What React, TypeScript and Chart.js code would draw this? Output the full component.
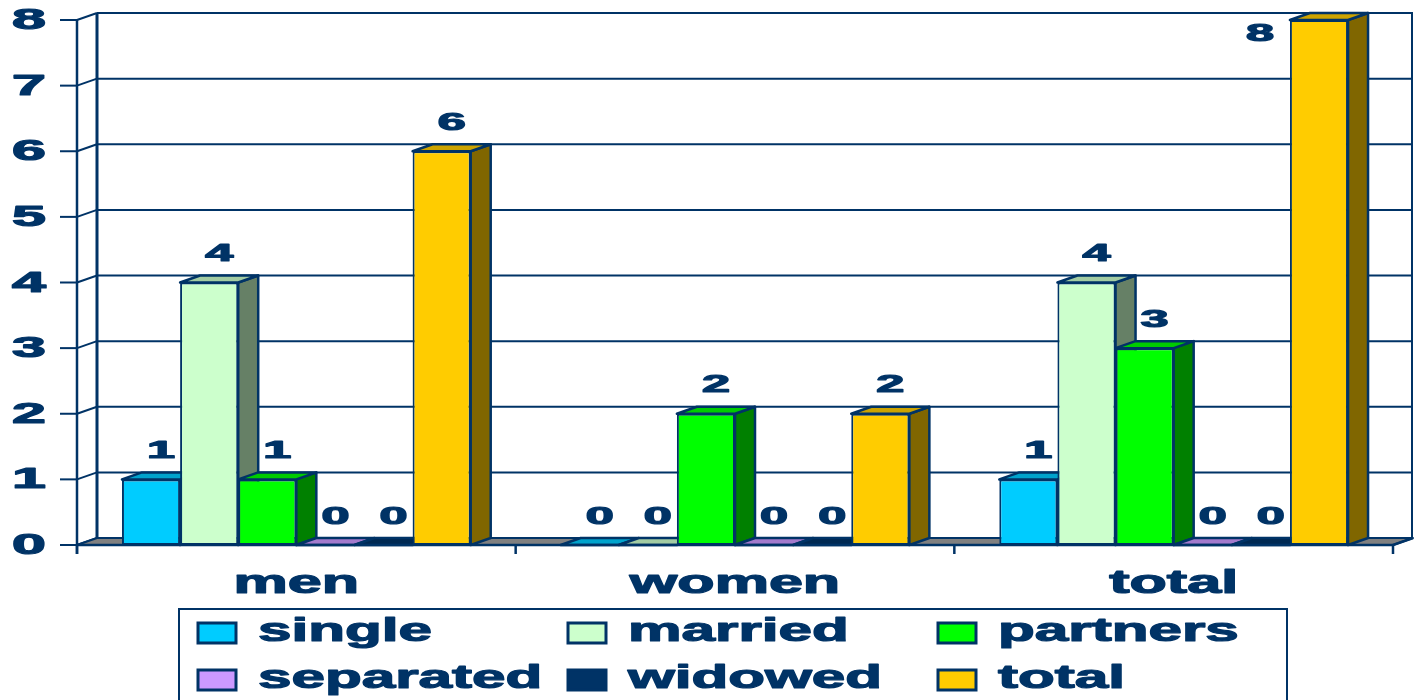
import React, { useEffect, useRef } from 'react';
import { Chart, registerables } from 'chart.js';

Chart.register(...registerables);

const categories = ['men', 'women', 'total'];
const seriesLabels = ['single', 'married', 'partners', 'separated', 'widowed', 'total'];
const singleValues = [1, 0, 1];
const marriedValues = [4, 0, 4];
const partnersValues = [1, 2, 3];
const separatedValues = [0, 0, 0];
const widowedValues = [0, 0, 0];
const totalValues = [6, 2, 8];
const yTickValues = [0, 1, 2, 3, 4, 5, 6, 7, 8];

const seriesValues = [singleValues, marriedValues, partnersValues, separatedValues, widowedValues, totalValues];

const frontColors = ['#00CCFF', '#CCFFCC', '#00FF00', '#CC99FF', '#003366', '#FFCC00'];
const topColors = ['#00A3CC', '#A3CCA3', '#00CC00', '#A37ACC', '#002952', '#CCA300'];
const sideColors = ['#006680', '#668066', '#008000', '#664D80', '#001A33', '#806600'];

const NAVY = '#003366';
const FLOOR = '#808080';
const DX = 20;
const DY = -7;
const FONT = '"Liberation Sans", Arial, Helvetica, sans-serif';

function stretchText(ctx: CanvasRenderingContext2D, text: string, x: number, y: number, size: number, sx: number, align: CanvasTextAlign, baseline: CanvasTextBaseline) {
  ctx.save();
  ctx.font = `bold ${size}px ${FONT}`;
  ctx.fillStyle = NAVY;
  ctx.strokeStyle = NAVY;
  ctx.lineWidth = 1.2;
  ctx.lineJoin = 'round';
  ctx.textAlign = align;
  ctx.textBaseline = baseline;
  ctx.translate(x, y);
  ctx.scale(sx, 1);
  ctx.fillText(text, 0, 0);
  ctx.strokeText(text, 0, 0);
  ctx.restore();
}

function line(ctx: CanvasRenderingContext2D, x1: number, y1: number, x2: number, y2: number) {
  ctx.beginPath();
  ctx.moveTo(x1, y1);
  ctx.lineTo(x2, y2);
  ctx.stroke();
}

function poly(ctx: CanvasRenderingContext2D, pts: number[][], fill: string, lw: number) {
  ctx.beginPath();
  ctx.moveTo(pts[0][0], pts[0][1]);
  for (let i = 1; i < pts.length; i++) ctx.lineTo(pts[i][0], pts[i][1]);
  ctx.closePath();
  ctx.fillStyle = fill;
  ctx.fill();
  ctx.strokeStyle = NAVY;
  ctx.lineWidth = lw;
  ctx.lineJoin = 'round';
  ctx.stroke();
}

const threeD = {
  id: 'threeD',
  beforeDatasetsDraw(chart: any) {
    const { ctx, chartArea: a, scales } = chart;
    const y = scales.y;
    ctx.save();
    ctx.strokeStyle = NAVY;
    ctx.lineWidth = 2;
    for (const v of yTickValues) {
      const yf = y.getPixelForValue(v);
      const yb = yf + DY;
      line(ctx, a.left + DX, yb, a.right + DX, yb);
      line(ctx, a.left, yf, a.left + DX, yb);
      line(ctx, a.left - 17, yf, a.left, yf);
    }
    ctx.lineWidth = 3;
    line(ctx, a.left + DX, a.top + DY, a.left + DX, a.bottom + DY);
    ctx.lineWidth = 2;
    line(ctx, a.right + DX - 1, a.top + DY, a.right + DX - 1, a.bottom + DY);
    ctx.lineWidth = 2.5;
    line(ctx, a.left, a.top, a.left, a.bottom + 9);
    poly(ctx, [[a.left, a.bottom], [a.right, a.bottom], [a.right + DX, a.bottom + DY], [a.left + DX, a.bottom + DY]], FLOOR, 2);
    ctx.restore();
  },
  // Native drawing is replaced by an ordered 3D draw in afterDatasetsDraw
  beforeDatasetDraw() {
    return false;
  },
  afterDatasetsDraw(chart: any) {
    const { ctx, chartArea: a } = chart;
    ctx.save();
    // bars: left-to-right order, sides/tops then fronts
    chart.data.datasets.forEach((_ds: any, i: number) => {
      const meta = chart.getDatasetMeta(i);
      for (const el of meta.data) {
        const p = el.getProps(['x', 'y', 'base', 'width'], true);
        const l = p.x - p.width / 2;
        const r = p.x + p.width / 2;
        if (p.base - p.y > 0.5) {
          poly(ctx, [[r, p.y], [r + DX, p.y + DY], [r + DX, p.base + DY], [r, p.base]], sideColors[i], 2.5);
        }
        poly(ctx, [[l, p.y], [l + DX, p.y + DY], [r + DX, p.y + DY], [r, p.y]], topColors[i], 2.5);
        el.draw(ctx, a);
      }
    });
    ctx.strokeStyle = NAVY;
    ctx.lineWidth = 2.5;
    line(ctx, a.left, a.bottom, a.right, a.bottom);
    line(ctx, a.right, a.bottom, a.right + DX, a.bottom + DY);
    const n = categories.length;
    const step = (a.right - a.left) / n;
    for (let k = 0; k <= n; k++) {
      const xp = a.left + step * k;
      line(ctx, xp, a.bottom, xp, a.bottom + 9);
    }
    chart.data.datasets.forEach((ds: any, di: number) => {
      const meta = chart.getDatasetMeta(di);
      meta.data.forEach((el: any, j: number) => {
        const p = el.getProps(['x', 'y', 'base', 'width'], true);
        let lx = p.x + 10;
        let ly = p.y - 28;
        if (ly - 12 < 0) {
          lx = p.x - p.width / 2 - 30;
          ly = p.y + 14;
        }
        stretchText(ctx, String(ds.data[j]), lx, ly, 24, 2.1, 'center', 'middle');
      });
    });
    ctx.restore();
  },
  afterDraw(chart: any) {
    const { ctx, chartArea: a, scales } = chart;
    const x = scales.x;
    const y = scales.y;
    ctx.save();
    for (const v of yTickValues) {
      stretchText(ctx, String(v), 29, y.getPixelForValue(v) + 1, 29, 2.1, 'center', 'middle');
    }
    categories.forEach((c, k) => {
      stretchText(ctx, c, x.getPixelForValue(k), a.bottom + 48, 33, 1.85, 'center', 'alphabetic');
    });
    ctx.strokeStyle = NAVY;
    ctx.lineWidth = 2;
    ctx.strokeRect(179, 609, 1108, 130);
    seriesLabels.forEach((s, k) => {
      const col = k % 3;
      const row = Math.floor(k / 3);
      const sx = 198 + col * 370;
      const sy = 623 + row * 47;
      ctx.fillStyle = frontColors[k];
      ctx.fillRect(sx, sy, 38, 20);
      ctx.strokeStyle = NAVY;
      ctx.lineWidth = 3;
      ctx.strokeRect(sx, sy, 38, 20);
      stretchText(ctx, s, sx + 60, sy + 18, 34, 1.77, 'left', 'alphabetic');
    });
    ctx.restore();
  },
};

export default function App() {
  const ref = useRef<HTMLCanvasElement>(null);
  useEffect(() => {
    const chart = new Chart(ref.current as HTMLCanvasElement, {
      type: 'bar',
      data: {
        labels: categories,
        datasets: seriesValues.map((d, i) => ({
          label: seriesLabels[i],
          data: d,
          backgroundColor: frontColors[i],
          borderColor: NAVY,
          borderWidth: 2,
          borderSkipped: false,
          categoryPercentage: 0.795,
          barPercentage: 1,
          clip: false,
        })) as any,
      },
      options: {
        responsive: false,
        animation: false,
        devicePixelRatio: 1,
        layout: { padding: { left: 77, right: 21, top: 20, bottom: 155 } },
        scales: {
          x: { display: false },
          y: { display: false, min: 0, max: 8 },
        },
        plugins: { legend: { display: false }, tooltip: { enabled: false } },
      } as any,
      plugins: [threeD as any],
    });
    return () => chart.destroy();
  }, []);
  return (
    <div style={{ position: 'fixed', left: 0, top: 0, width: 1414, height: 700, background: '#fff' }}>
      <canvas ref={ref} width={1414} height={700} style={{ display: 'block' }} />
    </div>
  );
}
